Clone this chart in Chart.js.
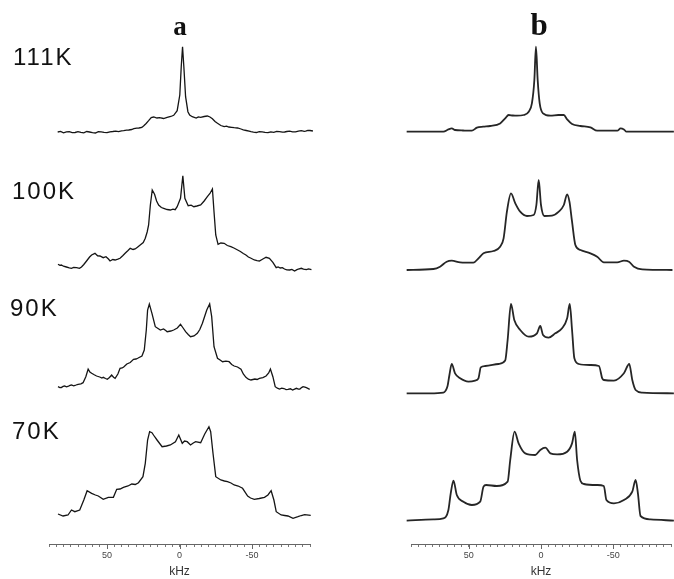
<!DOCTYPE html>
<html>
<head>
<meta charset="utf-8">
<script src="https://cdn.jsdelivr.net/npm/chart.js@4.4.0/dist/chart.umd.min.js"></script>
<style>
  body { margin: 0; background: #fff; }
  #wrap { position: relative; width: 674px; height: 579px; }
  .panel { position: absolute; top: 0; width: 337px; height: 579px; }
</style>
</head>
<body>
<div id="wrap">
  <div class="panel" style="left:0"><canvas id="chartA" width="337" height="579"></canvas></div>
  <div class="panel" style="left:337px"><canvas id="chartB" width="337" height="579"></canvas></div>
</div>
<script>
// temperatures, top to bottom
const temps = ['111K', '100K', '90K', '70K'];
const tickLabels = [50, 0, -50];

// set a: frequency (kHz) and intensity
const a111Khz = [84, 82, 80, 78, 76, 74, 72, 70, 68, 66, 64, 62, 60, 58, 56, 54, 52, 50, 48, 46, 44, 42, 40, 38.5, 36.5, 35, 33, 31.5, 29.5, 28, 26, 24.8, 23, 21.3, 19.5, 17.8, 15.5, 13.7, 11, 8.5, 6, 4, 1.6, -0.2, -1.2, -2.1, -3, -4.2, -5.8, -7, -8.8, -11.5, -13, -14.6, -17, -19.2, -21, -22.7, -24.5, -26.2, -28.5, -30.8, -32.5, -34, -36, -37.7, -40, -42.4, -44, -46, -48, -49.3, -51, -53, -55, -57, -59, -61, -63, -65, -67, -69, -71, -72.5, -74, -76, -78, -80, -82, -84, -86, -87, -88.5, -90, -92];
const a111Int = [0, 0.6, -0.8, 0.2, 0.4, -0.6, -0.5, 0.3, -0.4, -0.8, 0.5, 0, -0.6, -1, 0.4, 0.2, -0.3, -0.7, 0.2, 0.5, 0.9, 0.3, 1.2, 1.3, 1.8, 2, 2.5, 3.3, 3.8, 4, 4.6, 6, 8.5, 11.3, 14.5, 15, 14, 14.3, 13.5, 14.7, 15.5, 16.7, 21.3, 37, 65.3, 85.3, 65.3, 35.3, 20.3, 17, 15.3, 14, 15.1, 14.7, 15.5, 16, 15, 13.3, 10.5, 8.7, 6.5, 5.3, 5.8, 5, 4.6, 4.3, 4, 3, 2.2, 1.5, 0.8, 0.3, -0.2, -0.5, 0.4, 0.2, -0.4, -0.7, 0.1, -0.3, 0.6, 0.3, -0.2, 0, 0.5, 0.8, 0.1, 0.2, 0.9, 1.3, 0.6, 0.8, 1.6, 1.5, 1];

const a100Khz = [83.8, 82.5, 81.5, 80, 78, 76, 74.5, 73, 71, 69, 67.6, 66, 64.1, 62, 60.6, 58.3, 56.5, 54.9, 52.6, 50.7, 49, 47.9, 46, 44.4, 42.5, 41, 39, 37.5, 35.5, 34, 32, 30.6, 29, 27.1, 25, 23.6, 22.3, 21.3, 20.1, 18.8, 17.2, 15.8, 14.4, 12.5, 10.9, 8.5, 6.3, 4.5, 3, 1.6, -0.7, -2.3, -3.7, -6, -8, -9.9, -12, -14.6, -17, -19.2, -21, -22.7, -23.8, -25, -26.6, -28.5, -30.8, -33, -35.4, -37.5, -40.1, -42, -44, -45.8, -47.5, -49, -51.6, -53.5, -55.1, -57.5, -59.7, -62, -64.4, -66.7, -68, -69.5, -71, -72.4, -74, -76, -77.5, -79.4, -81, -82, -84, -85.5, -87.5, -89, -91];
const a100Int = [5.7, 4.6, 5, 3.8, 3, 2.2, 1.7, 2.6, 2.3, 1.6, 3, 5.5, 9, 13, 15, 16.7, 14.2, 14, 12.3, 13.3, 11, 9, 10.5, 10, 10.8, 11.7, 14.5, 16.7, 19.5, 21.7, 20.5, 21, 22.8, 25, 27.5, 31.7, 38, 45, 65, 80, 75.7, 69, 65, 62.5, 61.7, 60.5, 60, 60.8, 60.3, 63.3, 71.7, 94.3, 71.7, 64.3, 64.8, 63.3, 64, 65, 69, 73.3, 76.5, 81, 58.3, 35, 25.7, 27, 26.7, 24.5, 23.3, 22, 20, 18.5, 16.5, 15, 13, 12, 10, 9.4, 9, 11, 12.7, 11.7, 7.7, 2.3, 3, 2, 2.4, 1, 0.2, 0, 0.6, -1, 0.3, 1, 1.7, 0.8, 0.3, 1.1, 0.3];

const a90Khz = [83.8, 82.5, 81.5, 80.3, 79.2, 78, 77, 75.5, 74.5, 73, 72, 70.5, 69.9, 68, 66.5, 64.6, 63, 61.8, 60.6, 58.8, 57.2, 55, 53.5, 52.6, 51, 49.8, 48.3, 46.8, 45.5, 44.4, 42.5, 41, 39.5, 38.5, 36.3, 34, 31.7, 30, 28.5, 25.9, 24.3, 22.9, 22, 20.8, 19, 16.7, 14.8, 13.2, 11, 9.5, 8.5, 6, 4, 1.5, -0.7, -2.5, -4.2, -6, -7.6, -10, -12.3, -14, -15.8, -18.8, -20.8, -22.2, -23.8, -26.2, -28, -29.7, -32, -34.2, -36, -37.7, -40, -42.4, -44, -45.8, -47.5, -49.3, -52, -53.5, -55.1, -57.5, -59.7, -61.5, -62.7, -64.4, -66, -67.5, -69, -70.5, -72, -73.5, -74.8, -76.5, -78, -80.6, -82, -83, -84.2, -85.2, -86.5, -87.5, -89.8];
const a90Int = [3.3, 2.4, 2.5, 3.6, 4, 3.2, 3.5, 4.6, 5, 4.2, 4.5, 5.5, 5.7, 6.2, 7.3, 13.3, 21, 18, 16.7, 15.2, 14, 13, 12, 12.7, 11.5, 10.7, 12.5, 15, 12.8, 11.7, 16, 21.7, 22, 23, 26, 27.5, 30.7, 31, 32, 34, 40, 60, 80, 86, 76.7, 63.3, 61.5, 60, 61, 59.5, 58.3, 59, 60, 62, 65.7, 62, 58.3, 55.5, 53.3, 54, 56.7, 60.5, 66.7, 80, 86, 73.3, 43.3, 31.7, 30, 28.3, 28.8, 28.3, 25.5, 24, 23, 20.7, 16, 12.7, 10.8, 10, 11, 10.5, 11.7, 12.4, 14, 17, 21, 13.3, 3.3, 1.8, 1, 1.9, 1.5, 0.4, 0.7, 1.2, 0, 1.7, 0.9, 1, 2.4, 3.3, 2.8, 2.3, 0.7];

const a70Khz = [83.8, 80.3, 76.9, 74.5, 72.2, 68.8, 66, 63.7, 60.6, 58, 56, 52.6, 49.1, 45.6, 43.3, 41, 38.7, 35.5, 32.9, 30.5, 28.3, 25.2, 23.6, 22, 20.6, 19, 17, 15.5, 12, 9, 6.3, 2.8, 0.5, -1.9, -3.5, -5.3, -7.6, -9.5, -11.1, -14.6, -17.4, -20.3, -21.5, -23.1, -25, -28.5, -31, -33.1, -35.5, -37.7, -40.5, -43.5, -47, -49, -51.6, -55, -58.6, -61, -63.2, -65.1, -66.7, -70.1, -72.5, -74.8, -78.3, -81.7, -84, -86.3, -90.5];
const a70Int = [2, 0, 1, 6, 4.3, 6, 16, 25.3, 22.7, 21, 20, 16.7, 18.7, 18.7, 26.7, 27, 28.7, 30, 32, 31.5, 33.3, 39.3, 52.7, 76, 84.3, 83.3, 79, 76, 69.3, 70, 71, 74.3, 81, 72.7, 75, 74.3, 71, 73, 74.3, 73.3, 82, 89.3, 84.3, 62.7, 39.3, 36, 35, 34.3, 33, 31, 30, 27.7, 20, 18, 16.7, 17.5, 18.7, 21, 25.3, 16, 4.3, 1, 0.5, 0, -2.3, -0.7, 0.5, 1.3, 0.7];

// set b: frequency (kHz) and intensity
const b111Khz = [93, 80, 67.6, 64.1, 61.8, 59.5, 54, 47.9, 44.4, 40, 35.2, 28.3, 24.8, 22.4, 19.5, 16.7, 12, 8.5, 6.3, 4.6, 3.5, 2.3, 0.9, -1.4, -6.5, -12, -15.8, -18.1, -21.5, -27.3, -34.2, -38.9, -45, -52.8, -55.1, -57.4, -59.2, -75, -92];
const b111Int = [0, 0, 0, 2.3, 3.3, 1.7, 1.2, 1, 4, 5, 5.7, 8.3, 13.3, 16.7, 16.2, 16, 16.7, 20, 28.3, 51.7, 85, 51.7, 28.3, 18.3, 16, 16.7, 16.7, 12.3, 7.7, 5.7, 4.3, 1, 1, 1, 3.3, 2.3, 0, 0, 0];

const b100Khz = [93, 74.5, 69.9, 65.3, 61.8, 56, 46.8, 43.3, 39.8, 32.9, 28.3, 25.9, 23.6, 20.8, 17.8, 14.4, 9.7, 5.1, 3.2, 1.6, 0, -2.3, -7.6, -12.3, -15.8, -18.1, -19.7, -21.5, -23.8, -27.3, -34.2, -38.9, -43.5, -52.8, -57.4, -60.9, -64.4, -70.1, -91];
const b100Int = [0, 1, 3.3, 8.3, 9.3, 7.7, 7.3, 11.7, 16.7, 19, 23.3, 31.7, 58.3, 76.7, 66.7, 58.3, 54, 55, 65, 90, 65, 54, 54.3, 58.3, 65, 75.7, 68.3, 48.3, 25, 20, 16.7, 13.3, 7.7, 7.7, 9.3, 8.3, 3.3, 0.7, 0];

const b90Khz = [93, 76.9, 67.6, 64.8, 63.4, 61.8, 59.5, 56, 50.2, 45.6, 43.3, 41.7, 38.7, 29.4, 24.8, 23.1, 20.8, 18.5, 14.4, 8.5, 2.8, 0.5, -1.4, -5.3, -9.9, -14.6, -18.1, -19.9, -21.5, -23.1, -26.2, -34.2, -40.1, -42.4, -43.5, -50.5, -57.4, -61.1, -63.2, -65.5, -70.1, -92];
const b90Int = [0, 0, 0.7, 6.7, 18.3, 29.3, 20, 15, 11.7, 12.7, 15, 26, 27.3, 29.3, 32.7, 53.3, 89.3, 73.3, 63.3, 56.7, 60, 67.3, 58.3, 55.7, 60, 65, 75, 89.3, 63.3, 35, 29.3, 28.3, 27.3, 15, 13.3, 12.7, 20, 29.3, 13.3, 3.3, 0.7, 0];

const b70Khz = [93, 74.5, 67.6, 64.1, 62.5, 60.6, 58.3, 53.7, 47.9, 42.1, 39.8, 38, 30.6, 23.1, 21.3, 18.3, 15.5, 10.9, 4, 0.5, -3, -6.5, -11.1, -18.1, -21.5, -23.4, -25, -27.3, -29.7, -38.9, -43.5, -45.3, -50.5, -57.4, -63.2, -65.5, -67.1, -68.9, -75.8, -92];
const b70Int = [0, 1.3, 2.3, 10.7, 27.3, 40, 25.7, 19, 15.7, 19, 34, 35.7, 34.7, 39, 60.7, 89, 77.3, 67.3, 65.7, 70.7, 73, 67.3, 66.3, 69, 77.3, 89, 60.7, 40, 36.7, 35.7, 34.7, 20.7, 17.3, 20.7, 29, 40.7, 27.3, 4.7, 1.3, 0];

// y scale is 1 unit per pixel; chart area runs 0..544 from the axis line up
const Y_TOP = 544;
const baseA = [132, 270, 390, 516];
const baseB = [131.7, 270, 393.3, 520.7];

function trace(khz, level, base) {
  const off = Y_TOP - base;
  return khz.map(function(k, i) { return { x: k, y: off + level[i] }; });
}

// longer ticks under the labelled values
const longTicks = {
  id: 'longTicks',
  afterDraw: function(chart) {
    const xs = chart.scales.x;
    const ctx = chart.ctx;
    ctx.save();
    ctx.strokeStyle = '#666';
    ctx.lineWidth = 1;
    tickLabels.forEach(function(v) {
      const px = Math.round(xs.getPixelForValue(v)) + 0.5;
      ctx.beginPath();
      ctx.moveTo(px, xs.top);
      ctx.lineTo(px, xs.top + 5);
      ctx.stroke();
    });
    ctx.restore();
  }
};

// free text drawn on the canvas
const panelText = {
  id: 'panelText',
  afterDraw: function(chart, args, opts) {
    const ctx = chart.ctx;
    (opts.items || []).forEach(function(t) {
      ctx.save();
      ctx.font = t.font;
      ctx.fillStyle = '#111';
      ctx.textAlign = t.align || 'left';
      ctx.textBaseline = 'alphabetic';
      if ('letterSpacing' in ctx) ctx.letterSpacing = t.spacing || '0px';
      ctx.fillText(t.text, t.x, t.y);
      ctx.restore();
    });
  }
};

function makeChart(id, sets, bases, pad, lineW, smooth, texts) {
  const datasets = sets.map(function(s, i) {
    return {
      label: temps[i],
      data: trace(s[0], s[1], bases[i]),
      borderColor: smooth ? '#262626' : '#151515',
      borderWidth: lineW,
      pointRadius: 0,
      fill: false,
      clip: false,
      tension: 0,
      cubicInterpolationMode: smooth ? 'monotone' : 'default'
    };
  });

  return new Chart(document.getElementById(id), {
    type: 'line',
    data: { datasets: datasets },
    plugins: [longTicks, panelText],
    options: {
      responsive: false,
      animation: false,
      layout: { padding: { left: pad[0], right: pad[1], top: 0, bottom: 0 } },
      plugins: {
        legend: { display: false },
        tooltip: { enabled: false },
        panelText: { items: texts }
      },
      scales: {
        y: { display: false, min: 0, max: Y_TOP },
        x: {
          type: 'linear',
          reverse: true,
          min: -90,
          max: 90,
          afterFit: function(scale) { scale.height = 35; },
          border: { display: true, color: '#666', width: 1 },
          grid: { drawOnChartArea: false, drawTicks: true, tickLength: 3, color: '#777' },
          ticks: {
            stepSize: 5,
            autoSkip: false,
            maxRotation: 0,
            padding: 3,
            color: '#444',
            font: { family: 'Liberation Sans', size: 9 },
            callback: function(v) { return tickLabels.indexOf(v) >= 0 ? String(v) : ''; }
          },
          title: {
            display: true,
            text: 'kHz',
            color: '#333',
            font: { family: 'Liberation Sans', size: 12 },
            padding: { top: 0, bottom: 0 }
          }
        }
      }
    }
  });
}

const labelFont = '24px "Liberation Sans"';
const labelX = [13, 12, 10, 12];
const labelY = [65, 199, 316, 439];
const textA = temps.map(function(t, i) {
  return { text: t, x: labelX[i], y: labelY[i], font: labelFont, spacing: '2px' };
});
textA.push({ text: 'a', x: 180, y: 35, font: 'bold 27px "Liberation Serif"', align: 'center' });
const textB = [{ text: 'b', x: 202, y: 35, font: 'bold 31px "Liberation Serif"', align: 'center' }];

makeChart('chartA',
  [[a111Khz, a111Int], [a100Khz, a100Int], [a90Khz, a90Int], [a70Khz, a70Int]],
  baseA, [49, 27], 1.3, false, textA);

makeChart('chartB',
  [[b111Khz, b111Int], [b100Khz, b100Int], [b90Khz, b90Int], [b70Khz, b70Int]],
  baseB, [74, 2], 1.8, true, textB);
</script>
</body>
</html>
